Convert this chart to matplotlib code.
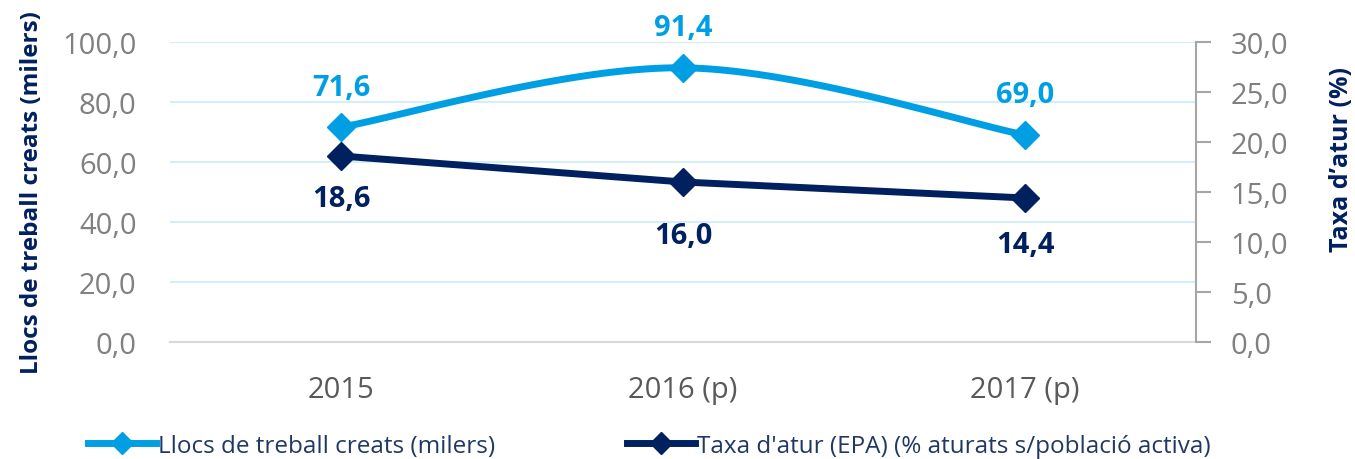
import numpy as np
import matplotlib
matplotlib.use("Agg")
import matplotlib.pyplot as plt
from matplotlib.lines import Line2D
from matplotlib.ticker import FuncFormatter

plt.rcParams['font.family'] = ['Open Sans', 'DejaVu Sans']

years = ["2015", "2016 (p)", "2017 (p)"]
llocs = [71.6, 91.4, 69.0]
atur = [18.6, 16.0, 14.4]
llocs_offsets = [40, 40, 40]
atur_offsets = [-43, -54, -47]

light_blue = "#009fe3"
navy = "#002060"
grid_col = "#d5eef9"
grey_txt = "#808080"


def catmull_rom(xs, ys, n=60):
    # smoothed line like the Excel "smoothed line" option
    px = np.concatenate([[xs[0]], xs, [xs[-1]]])
    py = np.concatenate([[ys[0]], ys, [ys[-1]]])
    out_x, out_y = [], []
    for i in range(1, len(px) - 2):
        t = np.linspace(0, 1, n)
        for p, out in ((px, out_x), (py, out_y)):
            p0, p1, p2, p3 = p[i - 1], p[i], p[i + 1], p[i + 2]
            out.extend(0.5 * ((2 * p1) + (-p0 + p2) * t
                              + (2 * p0 - 5 * p1 + 4 * p2 - p3) * t ** 2
                              + (-p0 + 3 * p1 - 3 * p2 + p3) * t ** 3))
    return np.array(out_x), np.array(out_y)


fig = plt.figure(figsize=(13.55, 4.6), dpi=100)
ax = fig.add_axes([170 / 1355, 1 - 343 / 460, (1196 - 170) / 1355, 300 / 460])
ax2 = ax.twinx()

x = np.arange(len(years))
comma = FuncFormatter(lambda v, p: f"{v:.1f}".replace(".", ","))

# left axis
ax.set_xlim(-0.5, len(years) - 0.5)
ax.set_ylim(0, 100)
ax.set_yticks(np.arange(0, 101, 20))
ax.yaxis.set_major_formatter(comma)
ax.grid(axis='y', color=grid_col, linewidth=1.5)
ax.set_axisbelow(True)
for s in ["top", "right", "left"]:
    ax.spines[s].set_visible(False)
ax.spines["bottom"].set_color("#d9d9d9")
ax.spines["bottom"].set_linewidth(1.5)
ax.tick_params(axis='y', length=0, labelsize=21, labelcolor=grey_txt, pad=24)
ax.tick_params(axis='x', length=0, labelsize=21, labelcolor="#595959", pad=24)
ax.set_xticks(x)
ax.set_xticklabels(years)
ax.set_ylabel("Llocs de treball creats (milers)", fontsize=17.5, fontweight='bold',
               color=navy)
ax.yaxis.set_label_coords(-0.123, 0.50)

# right axis
ax2.set_ylim(0, 30)
ax2.set_yticks(np.arange(0, 31, 5))
ax2.yaxis.set_major_formatter(comma)
for s in ["top", "left", "bottom"]:
    ax2.spines[s].set_visible(False)
ax2.spines["right"].set_color("#a6a6a6")
ax2.spines["right"].set_linewidth(1.5)
ax2.tick_params(axis='y', direction='out', length=11, width=1.5, color="#a6a6a6",
                labelsize=21, labelcolor=grey_txt, pad=14)
ax2.set_ylabel("Taxa d\u2019atur (%)", fontsize=18, fontweight='bold', color=navy,
               rotation=90)
ax2.yaxis.set_label_coords(1.13, 0.61)

# series
sx, sy = catmull_rom(x.astype(float), np.array(llocs))
ax.plot(sx, sy, color=light_blue, linewidth=5, solid_capstyle='round', zorder=3)
ax.plot(x, llocs, linestyle='none', marker='D', markersize=14, color=light_blue, zorder=4)
ax2.plot(x, atur, color=navy, linewidth=5, marker='D', markersize=14, zorder=3)

for xi, v, off in zip(x, llocs, llocs_offsets):
    ax.annotate(f"{v:.1f}".replace(".", ","), (xi, v), xytext=(0, off),
                textcoords='offset pixels', ha='center', va='center',
                fontsize=21, fontweight='bold', color=light_blue)
for xi, v, off in zip(x, atur, atur_offsets):
    ax2.annotate(f"{v:.1f}".replace(".", ","), (xi, v), xytext=(0, off),
                 textcoords='offset pixels', ha='center', va='center',
                 fontsize=21, fontweight='bold', color=navy)

handles = [
    Line2D([], [], color=light_blue, linewidth=5, marker='D', markersize=11),
    Line2D([], [], color=navy, linewidth=5, marker='D', markersize=11),
]
labels = ["Llocs de treball creats (milers)",
          "Taxa d'atur (EPA) (% aturats s/poblaci\u00f3 activa)"]
leg = fig.legend(handles, labels, loc='lower left', bbox_to_anchor=(66 / 1355, -0.045),
                 ncol=2, frameon=False, fontsize=17.5, handlelength=2.8,
                 handletextpad=0.1, columnspacing=5.4, labelcolor="#1f3864")

fig.savefig("out.png", dpi=100)
